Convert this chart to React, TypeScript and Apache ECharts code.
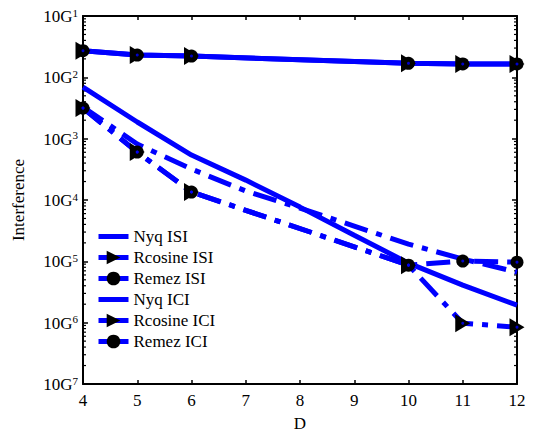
import React, { useEffect, useRef } from "react";
import * as echarts from "echarts";

const dAll = [4, 5, 6, 7, 8, 9, 10, 11, 12];
const dMark = [4, 5, 6, 10, 11, 12];
const nyqISI = [6.95e-3, 1.87e-3, 5.4e-4, 2.11e-4, 7.66e-5, 2.67e-5, 9.35e-6, 4.09e-6, 1.93e-6];
const rcosISI = [2.72e-2, 2.31e-2, 2.22e-2, 1.69e-2, 1.65e-2, 1.65e-2];
const remezISI = [2.72e-2, 2.31e-2, 2.22e-2, 1.69e-2, 1.65e-2, 1.65e-2];
const nyqICI = [3.28e-3, 8.17e-4, 3.19e-4, 1.4e-4, 7.38e-5, 3.75e-5, 1.91e-5, 1.09e-5, 6.67e-6];
const rcosICI = [3.15e-3, 6.04e-4, 1.35e-4, 8.67e-6, 9.8e-7, 8.45e-7];
const remezICI = [3.15e-3, 6.04e-4, 1.35e-4, 8.67e-6, 1.01e-5, 9.7e-6];
const seriesNames = ["Nyq ISI", "Rcosine ISI", "Remez ISI", "Nyq ICI", "Rcosine ICI", "Remez ICI"];

const FONT = "Liberation Serif";
const BLUE = "#0000ff";
const TRI = "path://M0,0L15,9L0,18Z";
const BAR = "path://M0,0L30,0L30,5L0,5Z";
const DASHDOT = [24, 9, 6, 9];

const minorTicks: number[] = [];
for (let n = -7; n <= -2; n++) {
  for (let k = 2; k <= 9; k++) minorTicks.push(k * Math.pow(10, n));
}

const pair = (xs: number[], ys: number[]) => xs.map((x, i) => [x, ys[i]]);

export default function App() {
  const ref = useRef<HTMLDivElement>(null);
  useEffect(() => {
    const chart = echarts.init(ref.current!, null, { renderer: "svg" });
    const lineBase = (name: string, xs: number[], ys: number[], dash: any, symbol: string, size: any) => ({
      name,
      type: "line",
      data: pair(xs, ys),
      symbol,
      symbolSize: size,
      showSymbol: symbol !== "none",
      itemStyle: { color: "#000" },
      lineStyle: { color: BLUE, width: 5, type: dash, cap: "butt" },
      z: 3,
    });
    const dots = (xs: number[], ys: number[]) => ({
      type: "scatter",
      data: pair(xs, ys),
      symbol: "circle",
      symbolSize: 3,
      itemStyle: { color: BLUE },
      z: 5,
      silent: true,
    });
    const noMarker = new Set(["Nyq ISI", "Nyq ICI"]);
    chart.setOption({
      animation: false,
      backgroundColor: "#fff",
      textStyle: { fontFamily: FONT, color: "#000" },
      grid: { left: 83, right: 16, top: 16, bottom: 49, outerBoundsMode: "none", containLabel: false },
      legend: {
        orient: "vertical",
        left: 91,
        top: 223,
        itemGap: 4,
        itemWidth: 30,
        itemHeight: 17,
        symbolKeepAspect: true,
        textStyle: { fontFamily: FONT, fontSize: 17, color: "#000" },
        data: seriesNames.map((n) =>
          noMarker.has(n)
            ? { name: n, icon: BAR, itemStyle: { color: BLUE, borderWidth: 0 } }
            : { name: n, lineStyle: { type: "solid", width: 5, color: BLUE } }
        ),
      },
      xAxis: [
        {
          type: "value",
          min: 4,
          max: 12,
          interval: 1,
          name: "D",
          nameLocation: "middle",
          nameGap: 31,
          nameTextStyle: { fontFamily: FONT, fontSize: 17, color: "#000" },
          axisLine: { lineStyle: { color: "#000", width: 2 } },
          axisTick: { inside: true, length: 4, lineStyle: { color: "#000", width: 1.5 } },
          axisLabel: { fontFamily: FONT, fontSize: 17, color: "#000", margin: 8 },
          splitLine: { show: false },
        },
        {
          type: "value",
          position: "top",
          min: 4,
          max: 12,
          interval: 1,
          axisLine: { lineStyle: { color: "#000", width: 2 } },
          axisTick: { inside: true, length: 4, lineStyle: { color: "#000", width: 1.5 } },
          axisLabel: { show: false },
          splitLine: { show: false },
        },
      ],
      yAxis: [
        {
          type: "log",
          min: 1e-7,
          max: 1e-1,
          logBase: 10,
          name: "Interference",
          nameLocation: "middle",
          nameGap: 56,
          nameTextStyle: { fontFamily: FONT, fontSize: 17, color: "#000" },
          axisLine: { lineStyle: { color: "#000", width: 2 } },
          axisTick: { inside: true, length: 5, lineStyle: { color: "#000", width: 1.5 } },
          axisLabel: {
            margin: 5,
            formatter: (v: number) => `{b|10G}{s|${Math.round(-Math.log10(v))}}`,
            rich: {
              b: { fontFamily: FONT, fontSize: 17, color: "#000", lineHeight: 18, verticalAlign: "bottom" },
              s: { fontFamily: FONT, fontSize: 11, color: "#000", lineHeight: 18, verticalAlign: "top", padding: [0, 0, 6, 0] },
            },
          },
          splitLine: { show: false },
        },
        {
          type: "log",
          min: 1e-7,
          max: 1e-1,
          logBase: 10,
          position: "right",
          axisLine: { lineStyle: { color: "#000", width: 2 } },
          axisTick: { inside: true, length: 5, lineStyle: { color: "#000", width: 1.5 } },
          axisLabel: { show: false },
          splitLine: { show: false },
        },
      ],
      series: [
        {
          type: "custom",
          silent: true,
          data: minorTicks.map((v) => [4, v]),
          renderItem: (params: any, api: any) => {
            const v = api.value(1);
            const l = api.coord([4, v]);
            const r = api.coord([12, v]);
            const st = { stroke: "#000", lineWidth: 1.2 };
            return {
              type: "group",
              children: [
                { type: "line", shape: { x1: l[0], y1: l[1], x2: l[0] + 3, y2: l[1] }, style: st },
                { type: "line", shape: { x1: r[0] - 3, y1: r[1], x2: r[0], y2: r[1] }, style: st },
              ],
            };
          },
          z: 2,
        },
        lineBase(seriesNames[0], dAll, nyqISI, "solid", "none", 0),
        lineBase(seriesNames[1], dMark, rcosISI, "solid", TRI, [15, 18]),
        lineBase(seriesNames[2], dMark, remezISI, "solid", "circle", 13),
        lineBase(seriesNames[3], dAll, nyqICI, DASHDOT, "none", 0),
        lineBase(seriesNames[4], dMark, rcosICI, DASHDOT, TRI, [15, 18]),
        lineBase(seriesNames[5], dMark, remezICI, DASHDOT, "circle", 13),
        dots(dMark, remezISI),
        dots(dMark, rcosICI),
        dots(dMark, remezICI),
      ],
    });
    return () => chart.dispose();
  }, []);
  return <div ref={ref} style={{ position: "fixed", left: 0, top: 0, width: 533, height: 433 }} />;
}
